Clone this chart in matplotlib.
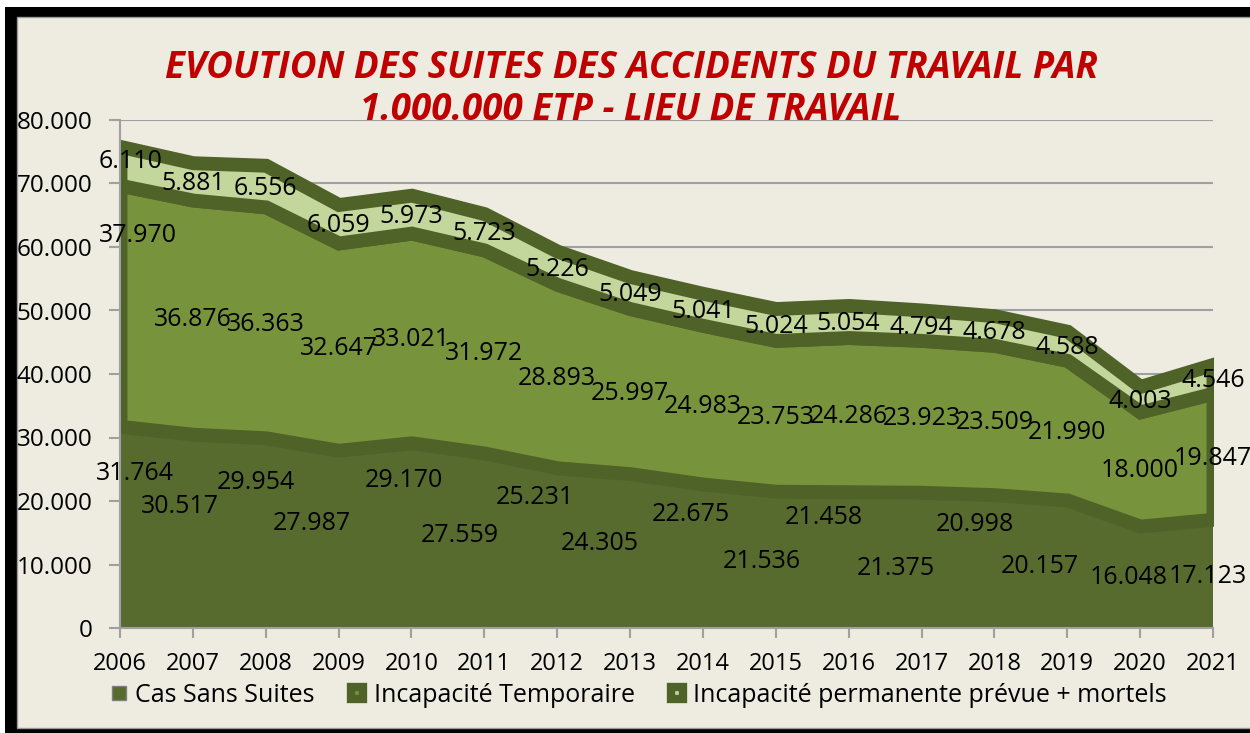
import numpy as np
import matplotlib.pyplot as plt
from matplotlib.lines import Line2D
from matplotlib.patches import Rectangle
from matplotlib.ticker import FuncFormatter, MultipleLocator

plt.rcParams['font.family'] = ['Open Sans', 'DejaVu Sans']

# Données (par 1.000.000 ETP)
years = list(range(2006, 2022))
cas_sans_suites = [31764, 30517, 29954, 27987, 29170, 27559, 25231, 24305,
                   22675, 21536, 21458, 21375, 20998, 20157, 16048, 17123]
incap_temporaire = [37970, 36876, 36363, 32647, 33021, 31972, 28893, 25997,
                    24983, 23753, 24286, 23923, 23509, 21990, 18000, 19847]
incap_permanente = [6110, 5881, 6556, 6059, 5973, 5723, 5226, 5049,
                    5041, 5024, 5054, 4794, 4678, 4588, 4003, 4546]
series_names = ['Cas Sans Suites', 'Incapacité Temporaire',
                'Incapacité permanente prévue + mortels']
title_lines = ['EVOUTION DES SUITES DES ACCIDENTS DU TRAVAIL PAR',
               '1.000.000 ETP - LIEU DE TRAVAIL']

# Décalage des étiquettes (pixels, dx vers la droite, dy vers le bas)
offsets_bas = [(15, -56), (-13, -27), (-10, -52), (-27, -18), (-8, -57), (-25, -7),
               (-22, -52), (-30, -9), (-12, -44), (-14, 0), (-25, -44), (-26, 6),
               (-20, -39), (-27, 0), (-11, -2), (-5, 1)]
offsets_milieu = [(18, -72)] + [(0, 0)] * 15
offsets_haut = [(11, -6)] + [(0, 0)] * 15

fills = ['#586B2E', '#77933C', '#C3D69B']
edges = ['none', '#4F6228', '#4F6228']
W, H = 1250, 733


def fmt(v, pos=None):
    return f"{int(v):,}".replace(',', '.')


fig = plt.figure(figsize=(W / 100, H / 100), dpi=100, facecolor='white')
# cadre noir + fond
fig.add_artist(Rectangle((5 / W, 0), 1, 1 - 7 / H, transform=fig.transFigure,
                         facecolor='black', edgecolor='none', zorder=-10))
fig.add_artist(Rectangle((17 / W, 1 - 728 / H), 1, (728 - 17) / H,
                         transform=fig.transFigure, facecolor='#EEECE1',
                         edgecolor='#9A9A9A', linewidth=1, zorder=-9))

ax = fig.add_axes([120 / W, 1 - 628 / H, (1213 - 120) / W, (628 - 120) / H])
ax.set_facecolor('none')

base = np.zeros(len(years))
layers = [cas_sans_suites, incap_temporaire, incap_permanente]
all_offsets = [offsets_bas, offsets_milieu, offsets_haut]
for vals, fc, ec, offs in zip(layers, fills, edges, all_offsets):
    top = base + np.array(vals)
    ax.fill_between(years, base, top, facecolor=fc, edgecolor=ec,
                    linewidth=10 if ec != 'none' else 0, joinstyle='miter', zorder=2)
    mid = (base + top) / 2
    for x, y, v, (dx, dy) in zip(years, mid, vals, offs):
        ax.annotate(fmt(v), xy=(x, y), xytext=(dx, -dy - 2), textcoords='offset pixels',
                    ha='center', va='center', fontsize=18, color='black', zorder=5,
                    annotation_clip=False)
    base = top

ax.set_xlim(2006, 2021)
ax.set_ylim(0, 80000)
ax.set_xticks(years)
ax.yaxis.set_major_locator(MultipleLocator(10000))
ax.yaxis.set_major_formatter(FuncFormatter(fmt))
ax.yaxis.grid(True, color='#A0A0A0', linewidth=1.5)
ax.set_axisbelow(True)
for s in ['top', 'right']:
    ax.spines[s].set_visible(False)
for s in ['left', 'bottom']:
    ax.spines[s].set_color('#A0A0A0')
    ax.spines[s].set_linewidth(1.5)
    ax.spines[s].set_zorder(3)
ax.tick_params(axis='y', length=8, width=1.5, color='#A0A0A0', pad=12, labelsize=17.5)
ax.tick_params(axis='x', length=7, width=1.5, color='#A0A0A0', pad=10, labelsize=17)

# titre
for i, line in enumerate(title_lines):
    fig.text(631 / W, 1 - (78 + 42 * i) / H, line, ha='center', va='baseline',
             color='#C00000', fontsize=26.5, fontweight='bold', fontstyle='italic',
             family='Open Sans', zorder=6)

handles = [
    Line2D([], [], linestyle='none', marker='s', markersize=10,
           markerfacecolor=fills[0], markeredgecolor='#7F7F7F', markeredgewidth=1),
    Line2D([], [], linestyle='none', marker='s', markersize=8.5,
           markerfacecolor=fills[1], markeredgecolor='#4F6228', markeredgewidth=6),
    Line2D([], [], linestyle='none', marker='s', markersize=8.5,
           markerfacecolor=fills[2], markeredgecolor='#4F6228', markeredgewidth=6),
]
fig.legend(handles, series_names, loc='center', bbox_to_anchor=(638 / W, 1 - 695 / H),
           ncol=3, frameon=False, fontsize=18, handlelength=0.8, handletextpad=0.25,
           columnspacing=1.3, borderpad=0)

fig.savefig('out.png', dpi=100, facecolor='white')
